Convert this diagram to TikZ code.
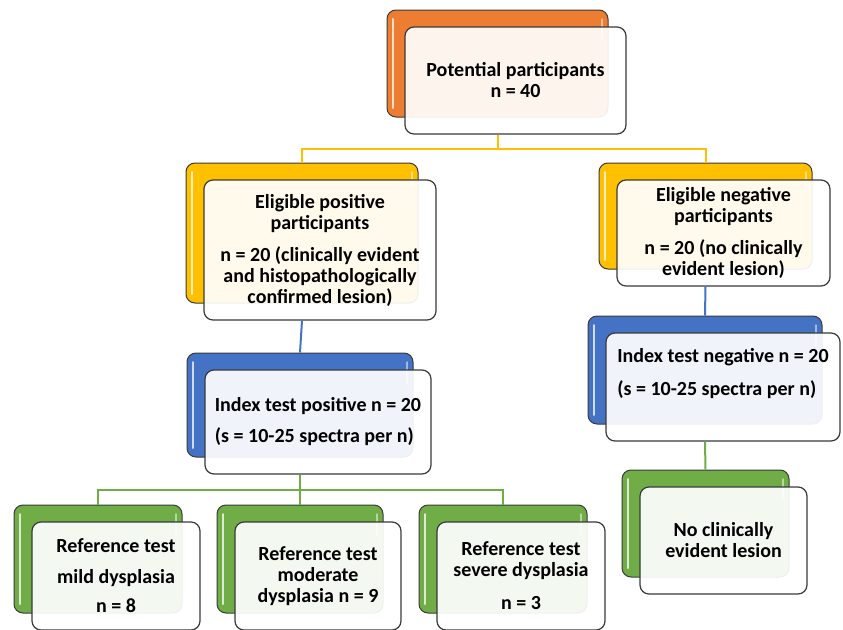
\documentclass[tikz,border=0pt]{standalone}
\usepackage{fontspec}
\setmainfont{Carlito}
\definecolor{orangeA}{HTML}{ED7D31}
\definecolor{yellowA}{HTML}{FFC000}
\definecolor{blueA}{HTML}{4472C4}
\definecolor{greenA}{HTML}{70AD47}
\definecolor{edgeA}{HTML}{3A3A3A}
\tikzset{
  backbox/.style={draw=edgeA, line width=1pt, rounded corners=9pt, fill=#1,
    path picture={
      \draw[white, line width=2pt, opacity=0.75, line cap=round]
        ([xshift=6pt,yshift=-9pt]path picture bounding box.north west) --
        ([xshift=6pt,yshift=9pt]path picture bounding box.south west);
      \draw[white, line width=1.5pt, opacity=0.5, line cap=round]
        ([xshift=-6pt,yshift=-9pt]path picture bounding box.north east) --
        ([xshift=-6pt,yshift=-30pt]path picture bounding box.north east);
    }},
  frontbox/.style={draw=edgeA, line width=1.2pt, rounded corners=9pt,
    fill=white, fill opacity=0.92, text opacity=1, align=center,
    font=\bfseries\fontsize{20}{21}\selectfont},
  yline/.style={yellowA, line width=2pt},
  bline/.style={blueA, line width=2pt},
  gline/.style={greenA, line width=2pt}
}
% back box #2B and front box #2 with the text
\newcommand{\duobox}[8][]{%
  \node[backbox=#3, minimum width=#6pt, minimum height=#7pt] (#2B) at (#4,#5) {};
  \node[frontbox, minimum width=#6pt, minimum height=#7pt, xshift=18pt, yshift=-17pt, #1] (#2) at (#2B) {#8};
}
\begin{document}
\begin{tikzpicture}[x=1pt, y=-1pt]
  \useasboundingbox[fill=white] (0,0) rectangle (843,629);
  % boxes
  \duobox{top}{orangeA}{497.5}{63.5}{221}{107}{Potential participants\\n = 40}
  \duobox{epos}{yellowA}{302}{233}{232}{140}{Eligible positive\\participants\\[11pt]n = 20 (clinically evident\\and histopathologically\\confirmed lesion)}
  \duobox{eneg}{yellowA}{705.5}{216}{213}{106}{Eligible negative\\participants\\[11pt]n = 20 (no clinically\\evident lesion)}
  \duobox[align=left]{ipos}{blueA}{300}{405}{226}{104}{Index test positive n = 20\\[10pt](s = 10-25 spectra per n)}
  \duobox[align=left, text depth=30pt]{ineg}{blueA}{705}{370}{234}{108}{Index test negative n = 20\\[12pt](s = 10-25 spectra per n)}
  \duobox{mild}{greenA}{98}{559}{168}{108}{Reference test\\[10pt]mild dysplasia\\[8pt]n = 8}
  \duobox{mod}{greenA}{300}{559}{166}{108}{Reference test\\moderate\\dysplasia n = 9}
  \duobox{sev}{greenA}{503}{559}{168}{108}{Reference test\\severe dysplasia\\[12pt]n = 3}
  \duobox{none}{greenA}{705.5}{523.5}{167}{107}{No clinically\\evident lesion}
  % connectors
  \draw[yline] (topB.south |- top.south) -- ++(0,14) -| (eposB.north);
  \draw[yline] (topB.south |- top.south) -- ++(0,14) -| (enegB.north);
  \draw[bline] (eposB.south |- epos.south) -- (iposB.north);
  \draw[bline] (enegB.south |- eneg.south) -- (inegB.north);
  \draw[gline] (iposB.south |- ipos.south) -- ++(0,15) -| (mildB.north);
  \draw[gline] (iposB.south |- ipos.south) -- (modB.north);
  \draw[gline] (iposB.south |- ipos.south) -- ++(0,15) -| (sevB.north);
  \draw[gline] (inegB.south |- ineg.south) -- (noneB.north);
\end{tikzpicture}
\end{document}
